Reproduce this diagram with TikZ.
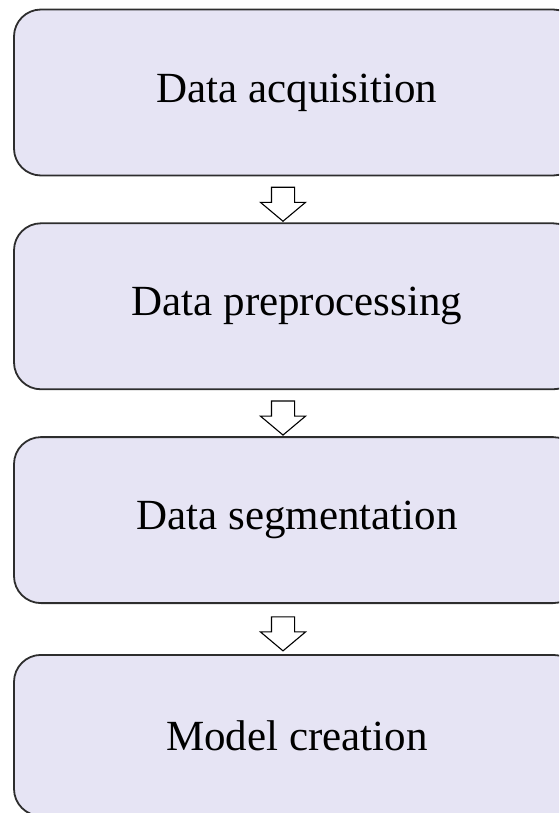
\documentclass[tikz,border=0pt]{standalone}
\usepackage{fontspec}
\setmainfont{Liberation Serif}
\usetikzlibrary{positioning,shapes.arrows,calc}

\definecolor{cajafondo}{RGB}{230,228,244}
\definecolor{cajaborde}{RGB}{45,45,45}

\tikzset{
    paso/.style={draw=cajaborde, line width=1.8pt, rectangle, rounded corners=27pt, fill=cajafondo,
        minimum width=566pt, minimum height=166pt, font=\fontsize{43}{50}\selectfont},
    flecha/.style={draw=black, line width=1.1pt, fill=white, single arrow, single arrow tip angle=100,
        single arrow head extend=11pt, inner xsep=0pt, inner ysep=11pt, minimum height=34pt, rotate=-90}
}

\begin{document}
\begin{tikzpicture}
    \clip (0,0) rectangle (559pt,-813pt);
    % Cajas
    \node[paso] (adq) at (297pt,-92.5pt) {Data acquisition};
    \node[paso, below=46pt of adq] (prep) {Data preprocessing};
    \node[paso, below=46pt of prep] (seg) {Data segmentation};
    \node[paso, minimum height=161pt, below=50pt of seg] (modelo) {Model creation};

    % Flechas
    \node[flecha] (f1) at ($(adq.south)!0.5!(prep.north) + (-14pt,0)$) {};
    \node[flecha] (f2) at ($(prep.south)!0.5!(seg.north) + (-14pt,0)$) {};
    \node[flecha] (f3) at ($(seg.south)!0.5!(modelo.north) + (-14pt,0)$) {};
\end{tikzpicture}
\end{document}
